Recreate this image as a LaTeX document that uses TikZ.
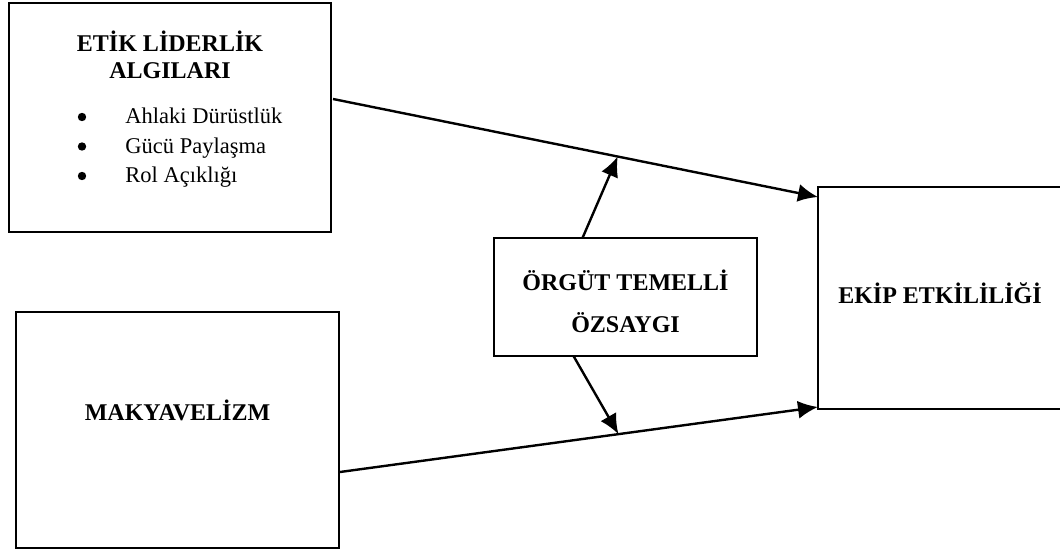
\documentclass[tikz,border=0pt]{standalone}
\usepackage{fontspec}
\setmainfont{Liberation Serif}
\usepackage{tikz}
\usetikzlibrary{arrows.meta, calc, positioning}

\begin{document}
\begin{tikzpicture}[x=0.5pt, y=-0.5pt,
    kasten/.style={draw, line width=0.9pt, inner sep=0pt, outer sep=0pt},
    titel/.style={font=\fontsize{12}{14}\selectfont\bfseries, inner sep=0pt, anchor=base},
    liste/.style={font=\fontsize{11.25}{13.5}\selectfont, inner sep=0pt},
    punkt/.style={circle, fill, inner sep=0pt, minimum size=4.2pt},
    pfeil/.style={line width=1.2pt, -{Latex[length=10pt, width=9pt]}}]
      % --- Rahmen: Bildgroesse wie Vorlage ---
      \clip (0,0) rectangle (1060,551);

      % --- Kaesten ---
      \node[kasten, minimum width=161pt, minimum height=114.5pt] (etik) at (170,117.5) {};
      \node[kasten, minimum width=161.5pt, minimum height=118pt] (mak) at (177.5,430) {};
      \node[kasten, minimum width=131.5pt, minimum height=59pt] (orgut) at (625.5,297) {};
      \node[kasten, minimum width=122pt, minimum height=111pt] (ekip) at (940,298) {};

      % --- Texte ---
      \node[titel] (etikzeile1) at (170,52) {ETİK LİDERLİK};
      \node[titel] (etikzeile2) at (170,79) {ALGILARI};
      \foreach \eintrag/\zeile [count=\i] in
        {Ahlaki Dürüstlük/124, Gücü Paylaşma/153.5, Rol Açıklığı/183} {
        \node[punkt] (punkt\i) at (82,\zeile-7) {};
        \node[liste, anchor=base west] (eintrag\i) at (125,\zeile) {\eintrag};
      }
      \node[titel] (maktext) at (177.5,420) {MAKYAVELİZM};
      \node[titel] (orgutzeile1) at (625.5,290) {ÖRGÜT TEMELLİ};
      \node[titel] (orgutzeile2) at (625.5,332) {ÖZSAYGI};
      \node[titel] (ekiptext) at (940,303) {EKİP ETKİLİLİĞİ};

      % --- Hauptpfeile ---
      \coordinate (oben1) at ($(etik.east)+(2,-18.5)$);
      \coordinate (oben2) at ($(ekip.north west)+(0,10)$);
      \coordinate (unten1) at ($(mak.east)+(1,42)$);
      \coordinate (unten2) at ($(ekip.south west)+(0,-2)$);
      \draw[pfeil] (oben1) -- (oben2);
      \draw[pfeil] (unten1) -- (unten2);

      % --- Moderator: Pfeile auf die Linien ---
      \coordinate (obenmitte) at ($(oben1)!0.587!(oben2)$);
      \coordinate (untenmitte) at ($(unten1)!0.5825!(unten2)$);
      \draw[pfeil] ($(orgut.north)+(-43,0)$) -- (obenmitte);
      \draw[pfeil] ($(orgut.south)+(-52,0)$) -- (untenmitte);
    \end{tikzpicture}
\end{document}
